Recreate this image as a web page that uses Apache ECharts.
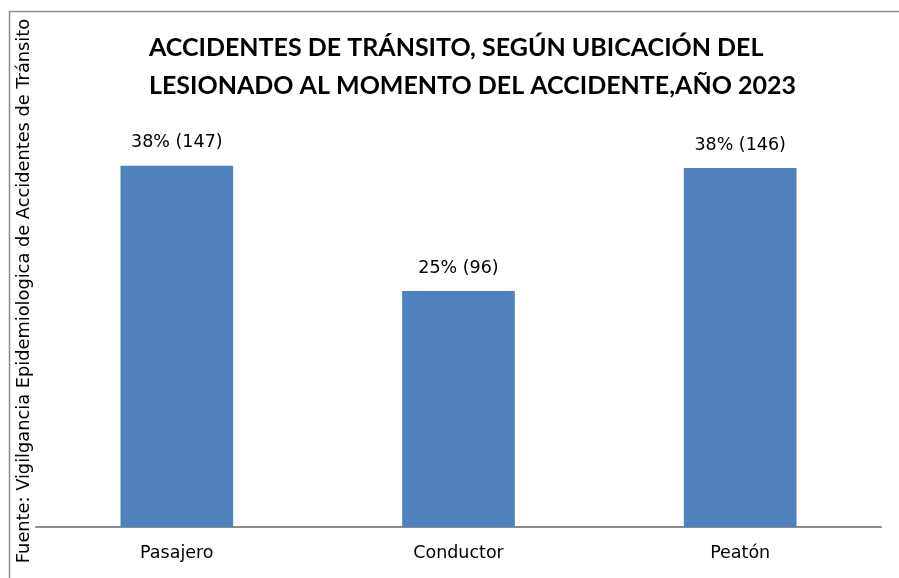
<!DOCTYPE html>
<html>
<head>
<meta charset="utf-8">
<script src="https://cdn.jsdelivr.net/npm/echarts@6/dist/echarts.min.js"></script>
<style>
html,body{margin:0;padding:0;background:#fff;}
#chart{width:899px;height:578px;}
</style>
</head>
<body>
<div id="chart"></div>
<script>
const titleLines = ["ACCIDENTES DE TRÁNSITO, SEGÚN UBICACIÓN DEL", "LESIONADO AL MOMENTO DEL ACCIDENTE,AÑO 2023"];
const yAxisName = "Fuente: Vigilgancia Epidemiologica de Accidentes de Tránsito";
const categories = ["Pasajero", "Conductor", "Peatón"];
const counts = [147, 96, 146];
const percents = [38, 25, 38];

const TITLE_FONT = "Lato, 'Open Sans', sans-serif";
const FONT = "'DejaVu Sans', sans-serif";
const chart = echarts.init(document.getElementById('chart'));
chart.setOption({
  animation: false,
  backgroundColor: '#ffffff',
  title: {
    text: titleLines.join('\n'),
    left: 144,
    top: 24,
    textStyle: { fontFamily: TITLE_FONT, fontWeight: 'bold', fontSize: 25, lineHeight: 38, color: '#000' }
  },
  graphic: [{
    type: 'rect', left: 7, top: 9, silent: true,
    shape: { x: 0, y: 0, width: 1000, height: 1000 },
    style: { fill: 'none', stroke: '#8c8c8c', lineWidth: 1.5 }
  }],
  grid: { left: 36, right: 18, top: 55, bottom: 51, containLabel: false, outerBoundsMode: 'none' },
  xAxis: {
    type: 'category',
    data: categories,
    axisLine: { lineStyle: { color: '#8c8c8c', width: 2 } },
    axisTick: { show: false },
    axisLabel: { fontFamily: FONT, fontSize: 17.5, color: '#000', margin: 17 }
  },
  yAxis: {
    type: 'value',
    min: 0,
    max: 192,
    name: yAxisName,
    nameLocation: 'middle',
    nameGap: 3,
    nameRotate: 90,
    nameTextStyle: { fontFamily: FONT, fontSize: 17.8, color: '#000' },
    axisLine: { show: false },
    axisTick: { show: false },
    axisLabel: { show: false },
    splitLine: { show: false }
  },
  series: [{
    type: 'bar',
    data: counts,
    barWidth: '40%',
    itemStyle: { color: '#4f81bd' },
    label: {
      show: true,
      position: 'top',
      distance: 14,
      fontFamily: FONT,
      fontSize: 17.5,
      color: '#000',
      formatter: p => percents[p.dataIndex] + '% (' + p.value + ')'
    }
  }]
});
</script>
</body>
</html>
